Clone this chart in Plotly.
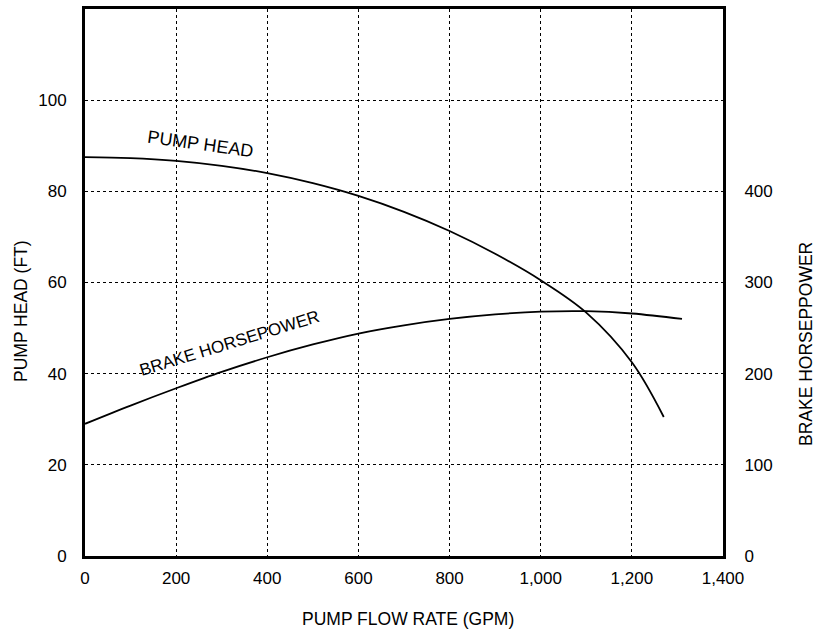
import plotly.graph_objects as go

flow_head = [0, 100, 200, 300, 400, 500, 600, 700, 800, 900, 1000, 1100, 1200, 1270]
head_ft = [87.5, 87.3, 86.7, 85.6, 84.0, 81.8, 79.0, 75.5, 71.3, 66.3, 60.5, 53.4, 42.5, 30.5]

flow_bhp = [0, 100, 200, 300, 400, 500, 600, 700, 800, 900, 1000, 1100, 1200, 1310]
bhp = [145, 165, 184, 202, 218, 232, 244, 253, 260, 265, 268, 268.5, 266, 260]

x_ticks = [0, 200, 400, 600, 800, 1000, 1200, 1400]
left_ticks = [0, 20, 40, 60, 80, 100]
right_ticks = [0, 100, 200, 300, 400]

FAM = "Liberation Sans, Arial, sans-serif"
font = dict(family=FAM, size=17, color="black")
tfont = dict(family=FAM, size=17.5, color="black")

fig = go.Figure()
fig.add_trace(go.Scatter(x=flow_head, y=head_ft, mode="lines",
                         line=dict(color="black", width=1.8, shape="spline", smoothing=1.0),
                         showlegend=False, hoverinfo="skip"))
fig.add_trace(go.Scatter(x=flow_bhp, y=bhp, mode="lines", yaxis="y2",
                         line=dict(color="black", width=1.8, shape="spline", smoothing=1.0),
                         showlegend=False, hoverinfo="skip"))

fig.update_layout(
    width=815, height=629,
    margin=dict(l=85, r=92, t=9, b=73),
    paper_bgcolor="white", plot_bgcolor="white",
    font=font,
    xaxis=dict(range=[0, 1400], tickvals=x_ticks, tickformat=",d", showgrid=True, gridcolor="black",
               griddash="dot", gridwidth=1, zeroline=False, showline=True, linecolor="black", linewidth=3,
               mirror=True, ticks="outside", ticklen=5, tickcolor="rgba(0,0,0,0)", automargin=False,
               tickfont=font),
    yaxis=dict(range=[0, 120], tickvals=left_ticks, showgrid=True, gridcolor="black", griddash="dot",
               gridwidth=1, zeroline=False, showline=True, linecolor="black", linewidth=3, mirror=True,
               ticks="outside", ticklen=12, tickcolor="rgba(0,0,0,0)", automargin=False, tickfont=font),
    yaxis2=dict(range=[0, 600], tickvals=right_ticks, overlaying="y", side="right", showgrid=False,
                zeroline=False, showline=False, ticks="outside", ticklen=17, tickcolor="rgba(0,0,0,0)",
                automargin=False, tickfont=font),
    annotations=[
        dict(x=254, y=90.3, xref="x", yref="y", text="PUMP HEAD", showarrow=False, textangle=8,
             font=dict(family=FAM, size=18, color="black")),
        dict(x=316, y=233, xref="x", yref="y2", text="BRAKE HORSEPOWER", showarrow=False, textangle=-17,
             font=dict(family=FAM, size=17, color="black")),
        dict(x=0, y=0, xref="paper", yref="paper", xanchor="center", yanchor="middle",
             xshift=21 - 85, yshift=(556 - 311), text="PUMP HEAD (FT)", textangle=-90,
             showarrow=False, font=tfont),
        dict(x=1, y=0, xref="paper", yref="paper", xanchor="center", yanchor="middle",
             xshift=806 - 723, yshift=(556 - 344), text="BRAKE HORSEPPOWER", textangle=-90,
             showarrow=False, font=tfont),
        dict(x=0, y=0, xref="paper", yref="paper", xanchor="center", yanchor="middle",
             xshift=408 - 85, yshift=-(619 - 556), text="PUMP FLOW RATE (GPM)",
             showarrow=False, font=tfont),
    ],
)

fig.write_html("out.html", config={"displayModeBar": False},
               post_script="document.body.style.margin='0';document.body.style.padding='0';")
